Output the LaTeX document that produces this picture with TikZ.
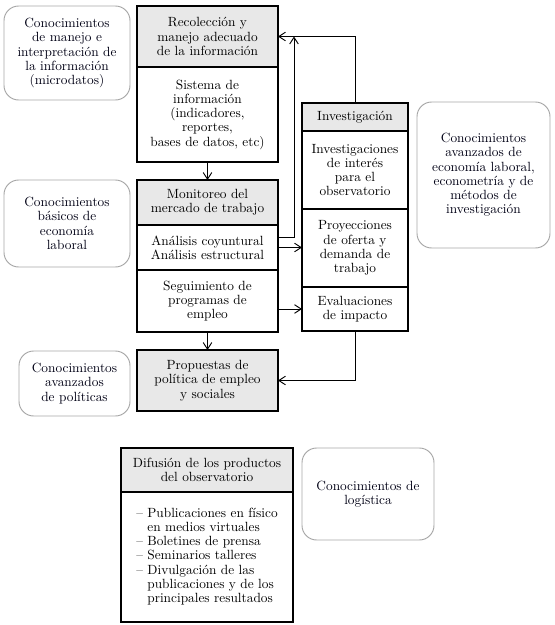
\documentclass[tikz,border=0pt]{standalone}
\usepackage{tikz}
\usetikzlibrary{arrows.meta, positioning}

\begin{document}
\begin{tikzpicture} [
						x=0.75pt, y=-0.75pt,
						font=\fontsize{10}{10.7}\selectfont,
						>={Straight Barb[length=5pt,width=6.5pt]},
						every node/.style={inner sep=2pt, outer sep=0pt, align=center},
						part/.style={draw, line width=0.9pt, minimum width=105.75pt, text width=101.75pt},
						head/.style={part, fill=black!9},
						invpart/.style={part, minimum width=79.5pt, text width=75.5pt},
						invhead/.style={invpart, fill=black!9},
						difpart/.style={part, minimum width=129pt, text width=125pt},
						difhead/.style={difpart, fill=black!9},
						know/.style={draw=black!35, line width=0.7pt, rounded corners=11pt, anchor=north west, text=blue!8!black}
					]

\useasboundingbox (0,0) rectangle (555,625);

% columna central
\node (rh) [head, anchor=north west, minimum height=45.75pt] at (137,6) {Recolección y\\manejo adecuado\\de la información};
\node (rb) [part, below=0pt of rh, minimum height=71.25pt] {Sistema de\\información\\(indicadores,\\reportes,\\bases de datos, etc)};
\node (mh) [head, anchor=north west, minimum height=33.75pt] at (137,180) {Monitoreo del\\mercado de trabajo};
\node (an) [part, below=0pt of mh, minimum height=33.75pt] {Análisis coyuntural\\Análisis estructural};
\node (seg) [part, below=0pt of an, minimum height=46.5pt] {Seguimiento de\\programas de\\empleo};
\node (prop) [head, anchor=north west, minimum height=45.75pt] at (137,350) {Propuestas de\\política de empleo\\y sociales};

% investigacion
\node (ih) [invhead, anchor=north west, minimum height=21pt] at (302,103) {Investigación};
\node (ia) [invpart, below=0pt of ih, minimum height=58.5pt] {Investigaciones\\de interés\\para el\\observatorio};
\node (pr) [invpart, below=0pt of ia, minimum height=58.5pt] {Proyecciones\\de oferta y\\demanda de\\trabajo};
\node (ev) [invpart, below=0pt of pr, minimum height=33pt] {Evaluaciones\\de impacto};

% difusion
\node (dh) [difhead, anchor=north west, minimum height=33pt] at (121,448) {Difusión de los productos\\del observatorio};
\node (db) [difpart, below=0pt of dh, minimum height=97.5pt] {\begin{tabular}{@{}l@{\ }l@{}}
	-- & Publicaciones en físico\\
	   & en medios virtuales\\
	-- & Boletines de prensa\\
	-- & Seminarios talleres\\
	-- & Divulgación de las\\
	   & publicaciones y de los\\
	   & principales resultados
\end{tabular}\\[8pt]};

% conocimientos
\node (k1) [know, minimum width=94.5pt, minimum height=70.5pt, text width=90.5pt] at (4,6) {Conocimientos\\de manejo e\\interpretación de\\la información\\(microdatos)};
\node (k2) [know, minimum width=94.5pt, minimum height=65.25pt, text width=90.5pt] at (4,180) {Conocimientos\\básicos de\\economía\\laboral};
\node (k3) [know, minimum width=83.25pt, minimum height=48.75pt, text width=79.25pt] at (19,351) {Conocimientos\\avanzados\\de políticas};
\node (k4) [know, minimum width=99.75pt, minimum height=109.5pt, text width=95.75pt] at (417,102) {Conocimientos\\avanzados de\\economía laboral,\\econometría y de\\métodos de\\investigación};
\node (k5) [know, minimum width=99pt, minimum height=69pt, text width=95pt] at (302,448) {Conocimientos de\\logística};

\path[->, line width=0.7pt]
	(rb) edge (mh)
	(seg) edge (prop);

\draw[->, line width=0.7pt] (ih.north) |- (rh.east);
\draw[->, line width=0.7pt] ([yshift=7.5pt]an.east) -| ([xshift=12pt]rh.east);
\draw[->, line width=0.7pt] (an.east) -- (an.east -| pr.west);
\draw[->, line width=0.7pt] (ev.west -| seg.east) -- (ev.west);
\draw[->, line width=0.7pt] (ev.south) |- (prop.east);
\end{tikzpicture}
\end{document}
